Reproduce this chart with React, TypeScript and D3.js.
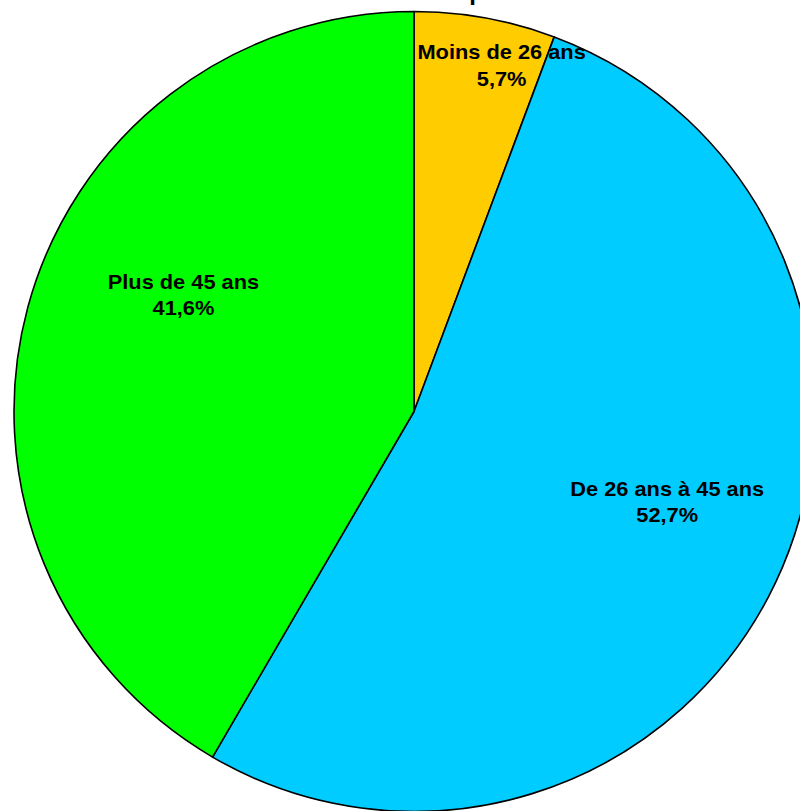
import React from "react";
import * as d3 from "d3";

const categories = ["Moins de 26 ans", "De 26 ans à 45 ans", "Plus de 45 ans"];
const values = [5.7, 52.7, 41.6];
const valueLabels = ["5,7%", "52,7%", "41,6%"];
const colors = ["#FFCC00", "#00CCFF", "#00FF00"];
const labelAngleShift = [3.7, -7.0, 12.9];
const labelRadius = [0.908, 0.667, 0.653];
const titleText = "Effectif total par tranche";

const W = 800;
const H = 811;
const cx = 414;
const cy = 411.5;
const R = 400;

export default function App() {
  const pie = d3.pie<number>().sort(null).value((d) => d)(values);
  const arc = d3.arc<d3.PieArcDatum<number>>().innerRadius(0).outerRadius(R);
  const font = "'Liberation Sans', Arial, sans-serif";
  return (
    <svg
      width={W}
      height={H}
      style={{ position: "fixed", left: 0, top: 0, display: "block" }}
    >
      <rect width={W} height={H} fill="#fff" />
      <text
        x={324}
        y={0}
        fontFamily={font}
        fontWeight="bold"
        fontSize={24}
        fill="#000"
      >
        {titleText}
      </text>
      <g transform={`translate(${cx},${cy})`}>
        {pie.map((p, i) => (
          <path
            key={i}
            d={arc(p) || ""}
            fill={colors[i]}
            stroke="#000"
            strokeWidth={1.6}
            strokeLinejoin="round"
          />
        ))}
        {pie.map((p, i) => {
          const mid = (p.startAngle + p.endAngle) / 2 + (labelAngleShift[i] * Math.PI) / 180;
          const r = labelRadius[i] * R;
          const x = r * Math.sin(mid);
          const y = -r * Math.cos(mid);
          return (
            <g key={"l" + i} transform={`translate(${x},${y}) scale(1.09,1)`}>
              <text
                textAnchor="middle"
                fontFamily={font}
                fontWeight="bold"
                fontSize={20}
                fill="#000"
              >
                <tspan x={0} y={0}>{categories[i]}</tspan>
                <tspan x={0} y={26.5}>{valueLabels[i]}</tspan>
              </text>
            </g>
          );
        })}
      </g>
    </svg>
  );
}
